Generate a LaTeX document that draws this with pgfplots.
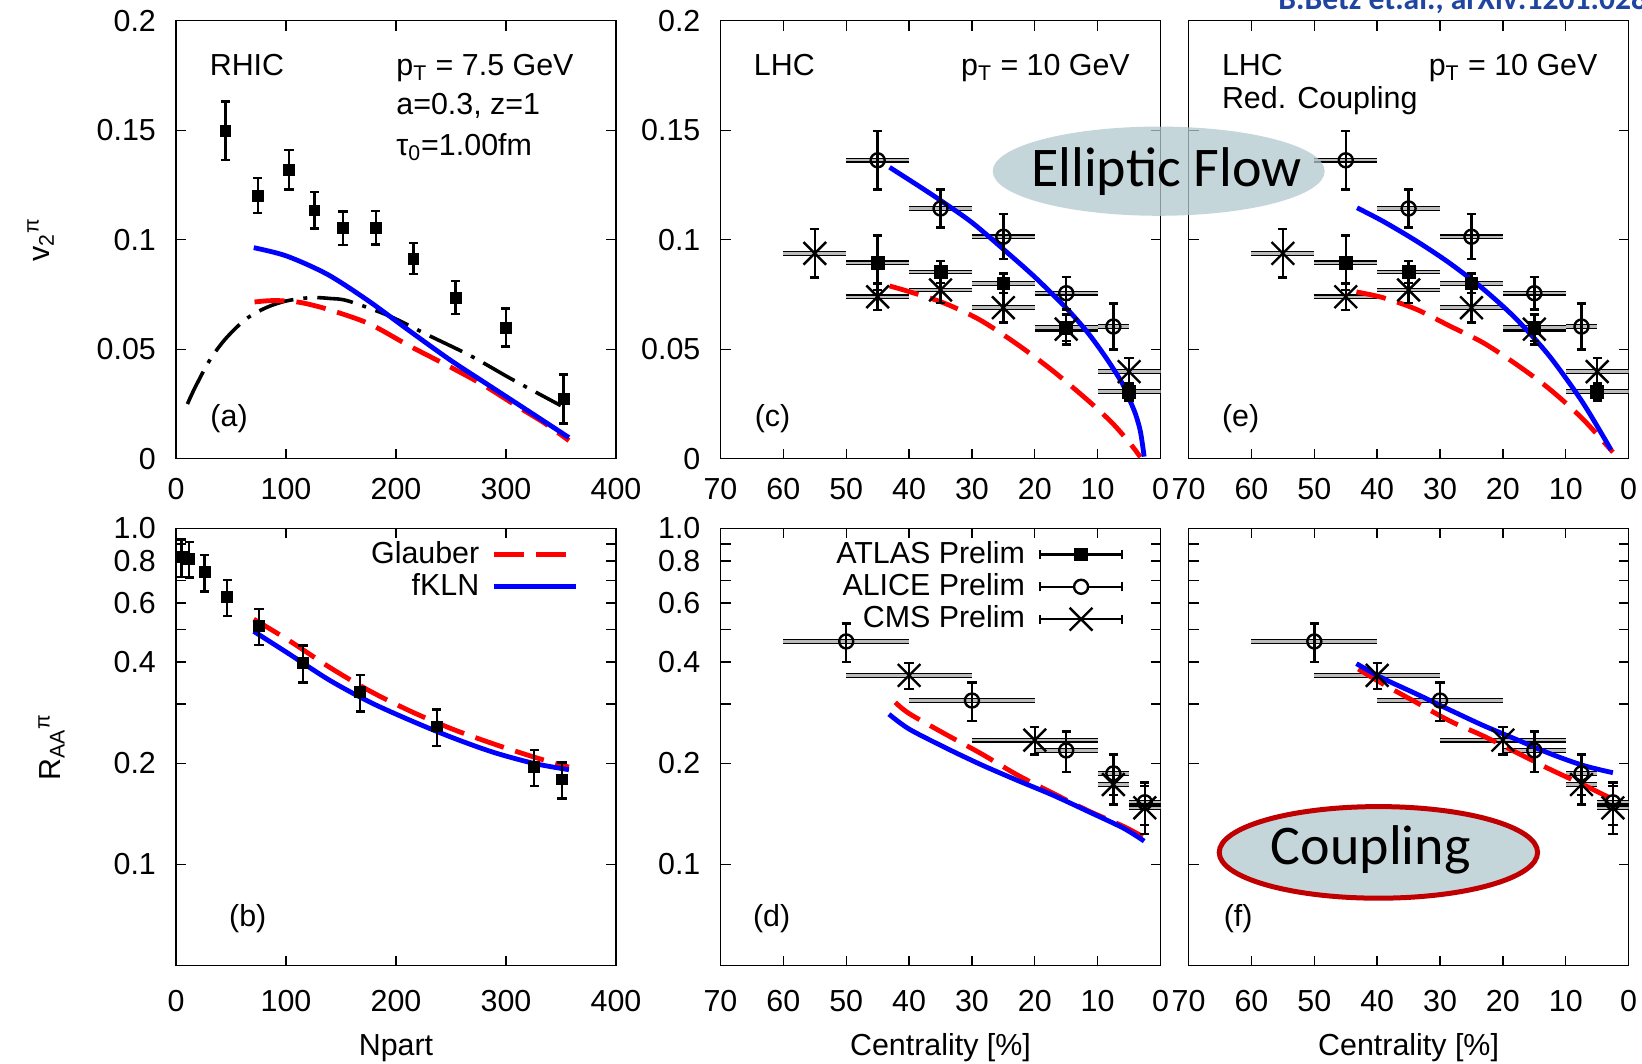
\documentclass[border=0pt]{standalone}
\usepackage{fontspec}
\setmainfont{Liberation Sans}
\newfontfamily\calibri{Carlito}
\usepackage{pgfplots}
\usepackage{pgfplotstable}
\pgfplotsset{compat=1.18}

\definecolor{gpred}{HTML}{FF0000}
\definecolor{gpblue}{HTML}{0000FF}
\definecolor{boxgray}{HTML}{BBBBBB}
\definecolor{ellfill}{HTML}{B2C8CF}
\definecolor{ellred}{HTML}{C00000}
\definecolor{refblue}{HTML}{1F45A0}

% ---------------- data ----------------
% RHIC v2 (PHENIX)
\pgfplotstableread{
x y ye
45.0 0.1498 0.0133
74.4 0.1202 0.0081
102.7 0.1320 0.0091
125.8 0.1134 0.0083
151.8 0.1053 0.0077
181.6 0.1055 0.0076
215.8 0.0914 0.0071
254.1 0.0736 0.0075
299.9 0.0599 0.0087
352.4 0.0273 0.0112
}\phenixv
% RHIC RAA (PHENIX)
\pgfplotstableread{
x y ye
5.0 0.823 0.105
12.0 0.812 0.098
26.0 0.741 0.092
46.5 0.626 0.077
75.5 0.513 0.063
115.4 0.398 0.050
167.4 0.326 0.041
237.0 0.2575 0.032
325.6 0.1949 0.024
350.9 0.1792 0.022
}\phenixr
% LHC v2
\pgfplotstableread{
x xe y ye
45 5 0.1363 0.0134
35 5 0.1143 0.0087
25 5 0.1014 0.0103
15 5 0.0756 0.0075
7.5 2.5 0.0604 0.0105
}\alicev
\pgfplotstableread{
x xe y ye
45 5 0.0895 0.0124
35 5 0.0853 0.0050
25 5 0.0801 0.0045
15 5 0.0599 0.0060
5 5 0.0307 0.0040
}\atlasv
\pgfplotstableread{
x xe y ye
55 5 0.0938 0.0111
45 5 0.0740 0.0060
35 5 0.0771 0.0060
25 5 0.0690 0.0067
15 5 0.0592 0.0070
5 5 0.0398 0.0062
}\cmsv
% LHC RAA
\pgfplotstableread{
x xe y ye
50 10 0.461 0.060
30 10 0.3075 0.040
15 5 0.2184 0.030
7.5 2.5 0.1866 0.026
2.5 2.5 0.1531 0.022
}\alicer
\pgfplotstableread{
x xe y ye
40 10 0.3654 0.033
20 10 0.2344 0.022
7.5 2.5 0.1729 0.022
2.5 2.5 0.1474 0.024
}\cmsr
% model curves
\pgfplotstableread{
x y
70.7 0.0964
100.5 0.0926
137.7 0.0842
175.0 0.0721
212.0 0.0585
249.0 0.0452
280.0 0.0350
310.0 0.0252
335.0 0.0170
357.2 0.0097
}\fklnA
\pgfplotstableread{
x y
71.4 0.0716
85 0.0722
100.5 0.0721
115 0.0712
137.7 0.0683
175.0 0.0618
212.0 0.0516
249.0 0.0420
280.0 0.0335
310.0 0.0240
335.0 0.0163
357.2 0.0083
}\glauA
\pgfplotstableread{
x y
10.4 0.0250
16.7 0.0319
30 0.0445
44.7 0.0546
63.3 0.0637
81.9 0.0690
100.5 0.0721
122.8 0.0736
140 0.0732
156.3 0.0721
193.5 0.0653
230.7 0.0561
267.9 0.0470
305.1 0.0364
349.8 0.0243
}\dashA
\pgfplotstableread{
x y
70.7 0.494
102.3 0.4243
139.5 0.3536
176.7 0.3037
214.0 0.2676
251.2 0.2385
288.4 0.2157
325.6 0.1998
357.2 0.1914
}\fklnB
\pgfplotstableread{
x y
70.7 0.537
102.3 0.465
139.5 0.3864
176.7 0.3276
214.0 0.285
251.2 0.2529
288.4 0.2286
325.6 0.2086
357.2 0.1949
}\glauB
\pgfplotstableread{
x y
43.1 0.1331
38.0 0.1237
34.6 0.1172
30.0 0.1079
25.0 0.0957
20.0 0.0830
15.0 0.0688
12.0 0.0591
10.0 0.0516
8.0 0.0433
6.0 0.0340
5.0 0.0275
4.0 0.0206
3.2 0.0125
2.6 0.0010
}\fklnC
\pgfplotstableread{
x y
43.1 0.0789
40.3 0.0766
34.6 0.0713
28.9 0.0637
23.2 0.0531
17.5 0.0410
11.8 0.0273
7.8 0.0167
5.0 0.0076
3.2 0.0008
}\glauC
\pgfplotstableread{
x y
43.2 0.280
40.0 0.2529
34.3 0.2229
28.6 0.1983
22.9 0.1783
17.2 0.1610
11.5 0.1437
5.9 0.1282
2.6 0.1173
}\fklnD
\pgfplotstableread{
x y
42.2 0.3037
40.0 0.2813
34.3 0.2447
28.6 0.2140
22.9 0.1852
17.2 0.1632
11.5 0.1444
5.9 0.1298
2.6 0.1203
}\glauD
\pgfplotstableread{
x y
43.2 0.1146
39.1 0.1085
33.8 0.0995
28.5 0.0894
23.2 0.0777
17.9 0.0639
12.6 0.0469
7.3 0.0257
2.8 0.0041
}\fklnE
\pgfplotstableread{
x y
43.3 0.0762
39.1 0.0736
33.8 0.0683
28.5 0.0607
23.2 0.0531
17.9 0.0432
12.6 0.0319
7.3 0.0182
2.5 0.0030
}\glauE
\pgfplotstableread{
x y
43.3 0.396
39.1 0.358
33.8 0.322
28.5 0.2887
23.2 0.2595
17.9 0.2357
12.6 0.214
7.3 0.1973
2.5 0.1875
}\fklnF
\pgfplotstableread{
x y
43.0 0.3815
39.1 0.3446
33.8 0.3037
28.5 0.2676
23.2 0.2416
17.9 0.2157
12.6 0.1923
7.3 0.1729
2.5 0.1562
}\glauF

\pgfplotsset{
  panel/.style={
    scale only axis, width=220pt,
    axis line style={line width=0.7pt},
    every tick/.append style={line width=0.7pt, black},
    major tick length=5pt, tick align=inside, tick pos=both,
    xticklabel pos=lower, yticklabel pos=left,
    yticklabel style={xshift=-4.8pt},
  },
  toprow/.style={panel, height=219pt, ymin=0, ymax=0.2,
    ytick={0,0.05,0.1,0.15,0.2}, yticklabels={0,0.05,0.1,0.15,0.2},
    xticklabel style={yshift=-4.6pt}},
  cent/.style={xmin=0, xmax=70, x dir=reverse,
    xtick={0,10,20,30,40,50,60,70}, xticklabels={0,10,20,30,40,50,60,70}},
  npart/.style={xmin=0, xmax=400,
    xtick={0,100,200,300,400}, xticklabels={0,100,200,300,400}},
  fkln/.style={gpblue, line width=2.4pt, no marks, smooth, forget plot},
  glau/.style={gpred, line width=2.4pt, no marks, smooth, dash pattern=on 15pt off 6pt, forget plot},
  boxout/.style={draw=none, mark=none, forget plot,
    error bars/x dir=both, error bars/x explicit,
    error bars/error mark=none, error bars/error bar style={draw=black, line width=2.4pt}},
  boxin/.style={draw=none, mark=none, forget plot,
    error bars/x dir=both, error bars/x explicit,
    error bars/error mark=none, error bars/error bar style={draw=boxgray, line width=1.2pt}},
  pts/.style={black, only marks, forget plot,
    error bars/y dir=both, error bars/y explicit,
    error bars/error bar style={line width=1.2pt},
    error bars/error mark options={rotate=90, mark size=2.3pt, line width=1.2pt}},
  atlasmark/.style={mark=square*, mark size=3.2pt},
  alicemark/.style={mark=o, mark size=3.5pt, mark options={line width=1.2pt}},
  cmsmark/.style={mark=x, mark size=8pt, mark options={line width=1.2pt}},
  lhclegend/.style={legend style={draw=none, fill=none, legend cell align=right,
    at={(axis description cs:0.93,0.992)}, anchor=north east, row sep=-1.8pt,
    nodes={inner sep=2.35pt}}, legend plot pos=right},
}

\newcommand\boxes[1]{%
  \addplot[boxout] table[x=x, y=y, x error=xe] {#1};
  \addplot[boxin] table[x=x, y=y, x error=xe] {#1};
}

\begin{document}
\fontsize{15.2}{17.5}\selectfont
\begin{tikzpicture}
% ---------- (a) ----------
\begin{axis}[toprow, npart, at={(88pt,302.6pt)}, anchor=south west,
  ylabel={v\textsubscript{2}\textsuperscript{π}},
  ylabel style={at={(axis description cs:-0.2886,0.5)}, anchor=base}]
\addplot[black, line width=1.8pt, no marks, smooth, dash pattern=on 18pt off 5pt on 2pt off 5pt, forget plot] table {\dashA};
\addplot[glau] table {\glauA};
\addplot[fkln] table {\fklnA};
\addplot[pts, mark=square*, mark size=2.7pt] table[x=x, y=y, y error=ye] {\phenixv};
\node[anchor=base west, inner sep=0pt] at (axis description cs:0.076,0.874) {RHIC};
\node[anchor=base west, inner sep=0pt] at (axis description cs:0.50,0.874) {p\textsubscript{T} = 7.5 GeV};
\node[anchor=base west, inner sep=0pt] at (axis description cs:0.50,0.785) {a=0.3, z=1};
\node[anchor=base west, inner sep=0pt] at (axis description cs:0.50,0.693) {τ\textsubscript{0}=1.00fm};
\node[anchor=base west, inner sep=0pt] at (axis description cs:0.0775,0.073) {(a)};
\end{axis}
% ---------- (c) ----------
\begin{axis}[toprow, cent, at={(360.25pt,302.6pt)}, anchor=south west]
\boxes{\cmsv}
\boxes{\atlasv}
\boxes{\alicev}
\addplot[glau] table {\glauC};
\addplot[fkln] table {\fklnC};
\addplot[pts, atlasmark] table[x=x, y=y, y error=ye] {\atlasv};
\addplot[pts, alicemark] table[x=x, y=y, y error=ye] {\alicev};
\addplot[pts, cmsmark] table[x=x, y=y, y error=ye] {\cmsv};
\node[anchor=base west, inner sep=0pt] at (axis description cs:0.075,0.874) {LHC};
\node[anchor=base west, inner sep=0pt] at (axis description cs:0.546,0.874) {p\textsubscript{T} = 10 GeV};
\node[anchor=base west, inner sep=0pt] at (axis description cs:0.077,0.073) {(c)};
\end{axis}
% ---------- (e) ----------
\begin{axis}[toprow, cent, at={(594.3pt,302.6pt)}, anchor=south west, yticklabels={}]
\boxes{\cmsv}
\boxes{\atlasv}
\boxes{\alicev}
\addplot[glau] table {\glauE};
\addplot[fkln] table {\fklnE};
\addplot[pts, atlasmark] table[x=x, y=y, y error=ye] {\atlasv};
\addplot[pts, alicemark] table[x=x, y=y, y error=ye] {\alicev};
\addplot[pts, cmsmark] table[x=x, y=y, y error=ye] {\cmsv};
\node[anchor=base west, inner sep=0pt] at (axis description cs:0.075,0.874) {LHC};
\node[anchor=base west, inner sep=0pt] at (axis description cs:0.075,0.800) {Red. Coupling};
\node[anchor=base west, inner sep=0pt] at (axis description cs:0.545,0.874) {p\textsubscript{T} = 10 GeV};
\node[anchor=base west, inner sep=0pt] at (axis description cs:0.075,0.073) {(e)};
\end{axis}
% ---------- (b) ----------
\begin{axis}[panel, npart, lhclegend, at={(88pt,49.25pt)}, anchor=south west,
  height=218.5pt, ymode=log, ymin=0.05, ymax=1,
  ytick={0.1,0.2,0.3,0.4,0.5,0.6,0.7,0.8,0.9,1.0},
  yticklabels={0.1,0.2,,0.4,,0.6,,0.8,,1.0},
  xticklabel style={yshift=-7pt},
  xlabel={Npart},
  xlabel style={at={(axis description cs:0.5,0)}, anchor=base, yshift=-45pt},
  ylabel={R\textsubscript{AA}\textsuperscript{π}},
  ylabel style={at={(axis description cs:-0.2636,0.5)}, anchor=base}]
\addplot[glau] table {\glauB};
\addplot[fkln] table {\fklnB};
\addplot[pts, mark=square*, mark size=2.7pt] table[x=x, y=y, y error=ye] {\phenixr};
\addlegendimage{legend image code/.code={\path (0pt,0pt);
  \draw[gpred, line width=2.4pt, dash pattern=on 15pt off 6pt] (5pt,0pt) -- (46pt,0pt);}}
\addlegendentry{Glauber}
\addlegendimage{legend image code/.code={\path (0pt,0pt);
  \draw[gpblue, line width=2.4pt] (5pt,0pt) -- (46pt,0pt);}}
\addlegendentry{fKLN}
\node[anchor=base west, inner sep=0pt] at (axis description cs:0.12,0.089) {(b)};
\end{axis}
% ---------- (d) ----------
\begin{axis}[panel, cent, lhclegend, at={(360.25pt,49.25pt)}, anchor=south west,
  height=218.5pt, ymode=log, ymin=0.05, ymax=1,
  ytick={0.1,0.2,0.3,0.4,0.5,0.6,0.7,0.8,0.9,1.0},
  yticklabels={0.1,0.2,,0.4,,0.6,,0.8,,1.0},
  xticklabel style={yshift=-7pt},
  xlabel={Centrality [\%]},
  xlabel style={at={(axis description cs:0.5,0)}, anchor=base, yshift=-45pt}]
\boxes{\alicer}
\boxes{\cmsr}
\addplot[glau] table {\glauD};
\addplot[fkln] table {\fklnD};
\addplot[pts, alicemark] table[x=x, y=y, y error=ye] {\alicer};
\addplot[pts, cmsmark] table[x=x, y=y, y error=ye] {\cmsr};
\addlegendimage{legend image code/.code={\path (0pt,0pt);
  \draw[black, line width=1.2pt] (5pt,0pt) -- (46pt,0pt) (5pt,-2.3pt) -- (5pt,2.3pt) (46pt,-2.3pt) -- (46pt,2.3pt);
  \fill[black] (22.3pt,-3.2pt) rectangle (28.7pt,3.2pt);}}
\addlegendentry{ATLAS Prelim}
\addlegendimage{legend image code/.code={\path (0pt,0pt);
  \draw[black, line width=1.2pt] (5pt,0pt) -- (46pt,0pt) (5pt,-2.3pt) -- (5pt,2.3pt) (46pt,-2.3pt) -- (46pt,2.3pt);
  \draw[black, line width=1.2pt, fill=white] (25.5pt,0pt) circle (3.5pt);}}
\addlegendentry{ALICE Prelim}
\addlegendimage{legend image code/.code={\path (0pt,0pt);
  \draw[black, line width=1.2pt] (5pt,0pt) -- (46pt,0pt) (5pt,-2.3pt) -- (5pt,2.3pt) (46pt,-2.3pt) -- (46pt,2.3pt);
  \draw[black, line width=1.2pt] (19.8pt,-5.7pt) -- (31.2pt,5.7pt) (19.8pt,5.7pt) -- (31.2pt,-5.7pt);}}
\addlegendentry{CMS Prelim}
\node[anchor=base west, inner sep=0pt] at (axis description cs:0.073,0.089) {(d)};
\end{axis}
% ---------- (f) ----------
\begin{axis}[panel, cent, at={(594.3pt,49.25pt)}, anchor=south west,
  height=218.5pt, ymode=log, ymin=0.05, ymax=1,
  ytick={0.1,0.2,0.3,0.4,0.5,0.6,0.7,0.8,0.9,1.0},
  yticklabels={},
  xticklabel style={yshift=-7pt},
  xlabel={Centrality [\%]},
  xlabel style={at={(axis description cs:0.5,0)}, anchor=base, yshift=-45pt}]
\boxes{\alicer}
\boxes{\cmsr}
\addplot[glau] table {\glauF};
\addplot[fkln] table {\fklnF};
\addplot[pts, alicemark] table[x=x, y=y, y error=ye] {\alicer};
\addplot[pts, cmsmark] table[x=x, y=y, y error=ye] {\cmsr};
\node[anchor=base west, inner sep=0pt] at (axis description cs:0.079,0.089) {(f)};
\end{axis}
% ---------- overlays ----------
\fill[ellfill, fill opacity=0.75] (579.35pt,446.4pt) ellipse [x radius=83pt, y radius=22.3pt];
\node[anchor=base, inner sep=0pt, font=\calibri\fontsize{28}{30}\selectfont] at (583.2pt,438.65pt) {Elliptic Flow};
\draw[ellred, line width=2.5pt, fill=ellfill, fill opacity=0.75, draw opacity=1] (689.2pt,105.8pt) ellipse [x radius=79.6pt, y radius=22.9pt];
\node[anchor=base, inner sep=0pt, font=\calibri\fontsize{28}{30}\selectfont] at (685.4pt,99.5pt) {Coupling};
\node[anchor=base west, inner sep=0pt, text=refblue, font=\calibri\bfseries\fontsize{15.8}{17}\selectfont] at (639pt,527pt) {B.Betz et.al., arXiv:1201.0281};
\pgfresetboundingbox
\path[use as bounding box] (0pt,0pt) rectangle (821pt,532pt);
\end{tikzpicture}
\end{document}
